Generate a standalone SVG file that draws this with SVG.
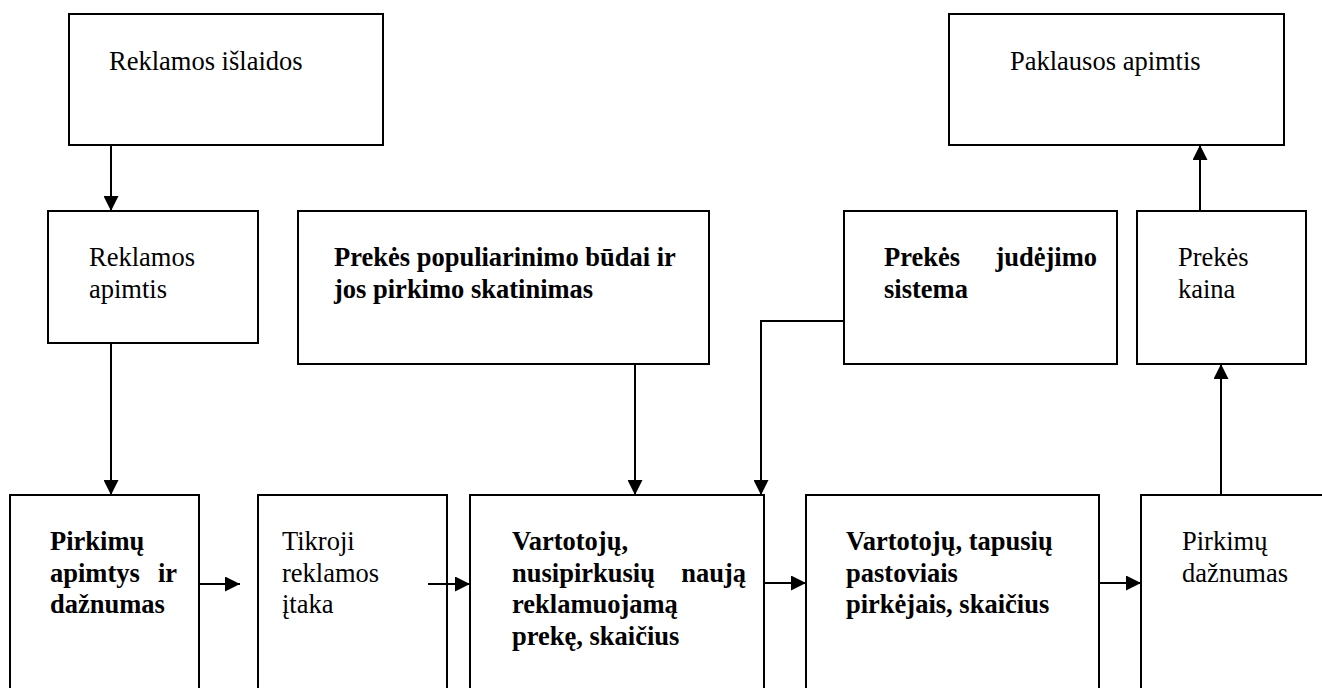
<svg xmlns="http://www.w3.org/2000/svg" width="1322" height="688" viewBox="0 0 1322 688">
<style>
.box{fill:#fff;stroke:#000;stroke-width:2}
.t{font-family:"Liberation Serif","Times New Roman",serif;font-size:26.5px;fill:#000}
.b{font-weight:bold}
.c{fill:none;stroke:#000;stroke-width:2}
</style>
<defs>
<marker id="ah" markerUnits="userSpaceOnUse" markerWidth="15" markerHeight="15" refX="15" refY="7.5" orient="auto">
<path d="M0,0 L15,7.5 L0,15 z" fill="#000"/>
</marker>
</defs>
<rect width="1322" height="688" fill="#fff"/>
<g id="n-reklamos-islaidos">
<rect class="box" x="69" y="14" width="314" height="131"/>
<text class="t" x="109" y="70">Reklamos išlaidos</text>
</g>
<g id="n-paklausos-apimtis">
<rect class="box" x="949" y="14" width="335" height="131"/>
<text class="t" x="1010" y="70">Paklausos apimtis</text>
</g>
<g id="n-reklamos-apimtis">
<rect class="box" x="48" y="211" width="210" height="132"/>
<text class="t" x="89" y="266">Reklamos</text>
<text class="t" x="89" y="298">apimtis</text>
</g>
<g id="n-populiarinimas">
<rect class="box" x="298" y="211" width="411" height="153"/>
<text class="t b" x="334" y="266">Prekės populiarinimo būdai ir</text>
<text class="t b" x="334" y="298">jos pirkimo skatinimas</text>
</g>
<g id="n-judejimas">
<rect class="box" x="844" y="211" width="273" height="153"/>
<text class="t b" x="884" y="266">Prekės</text>
<text class="t b" x="1097" y="266" text-anchor="end">judėjimo</text>
<text class="t b" x="884" y="298">sistema</text>
</g>
<g id="n-kaina">
<rect class="box" x="1137" y="211" width="169" height="153"/>
<text class="t" x="1178" y="266">Prekės</text>
<text class="t" x="1178" y="298">kaina</text>
</g>
<g id="n-pirkimu-apimtys">
<rect class="box" x="10" y="495" width="189" height="210"/>
<text class="t b" x="50" y="550">Pirkimų</text>
<text class="t b" x="50" y="581.5">apimtys</text>
<text class="t b" x="177" y="581.5" text-anchor="end">ir</text>
<text class="t b" x="50" y="613">dažnumas</text>
</g>
<g id="n-tikroji-itaka">
<rect class="box" x="258" y="495" width="189" height="210"/>
<text class="t" x="282" y="550">Tikroji</text>
<text class="t" x="282" y="581.5">reklamos</text>
<text class="t" x="282" y="613">įtaka</text>
</g>
<g id="n-nauji-vartotojai">
<rect class="box" x="470" y="495" width="294" height="210"/>
<text class="t b" x="512" y="550">Vartotojų,</text>
<text class="t b" x="512" y="581.5">nusipirkusių</text>
<text class="t b" x="746" y="581.5" text-anchor="end">naują</text>
<text class="t b" x="512" y="613">reklamuojamą</text>
<text class="t b" x="512" y="644.5">prekę, skaičius</text>
</g>
<g id="n-pastovus-pirkejai">
<rect class="box" x="806" y="495" width="293" height="210"/>
<text class="t b" x="846" y="550">Vartotojų, tapusių</text>
<text class="t b" x="846" y="581.5">pastoviais</text>
<text class="t b" x="846" y="613">pirkėjais, skaičius</text>
</g>
<g id="n-pirkimu-daznumas">
<rect class="box" x="1141" y="495" width="200" height="210"/>
<text class="t" x="1182" y="550">Pirkimų</text>
<text class="t" x="1182" y="581.5">dažnumas</text>
</g>
<g id="connectors">
<path class="c" d="M111,145 V211" marker-end="url(#ah)"/>
<path class="c" d="M111,343 V495" marker-end="url(#ah)"/>
<path class="c" d="M635,364 V495" marker-end="url(#ah)"/>
<path class="c" d="M844,321 H761 V495" marker-end="url(#ah)"/>
<path class="c" d="M1221,495 V364" marker-end="url(#ah)"/>
<path class="c" d="M1200,211 V145" marker-end="url(#ah)"/>
<path class="c" d="M199,584 H240" marker-end="url(#ah)"/>
<path class="c" d="M428,584 H470" marker-end="url(#ah)"/>
<path class="c" d="M764,583 H806" marker-end="url(#ah)"/>
<path class="c" d="M1099,583 H1141" marker-end="url(#ah)"/>
</g>
</svg>
